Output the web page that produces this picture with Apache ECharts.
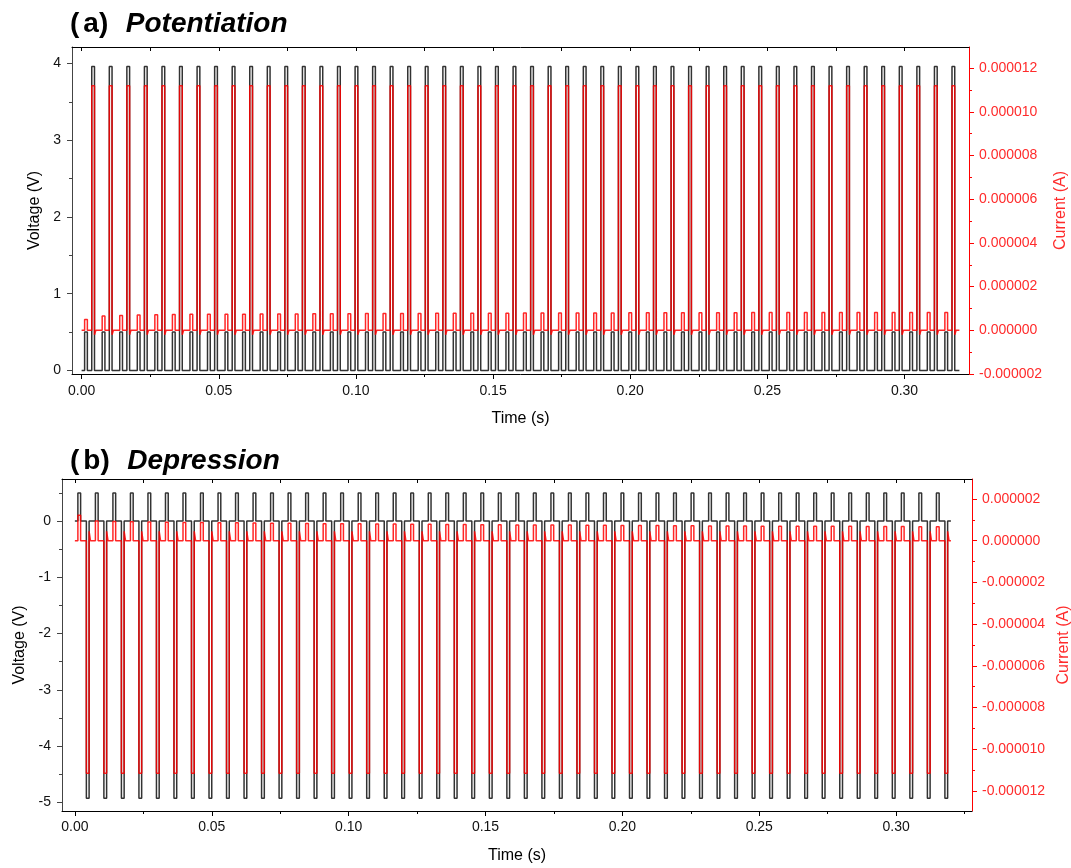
<!DOCTYPE html>
<html><head><meta charset="utf-8">
<script src="https://cdn.jsdelivr.net/npm/echarts@6/dist/echarts.min.js"></script>
<style>html,body{margin:0;padding:0;background:#fff}#c{width:1071px;height:868px}</style>
</head><body><div id="c"></div>
<script>
// ---------- data ----------
const cycleStarts = [0.0000,0.0064,0.0128,0.0192,0.0256,0.0320,0.0384,0.0448,0.0512,0.0576,
  0.0640,0.0704,0.0768,0.0832,0.0896,0.0960,0.1024,0.1088,0.1152,0.1216,
  0.1280,0.1344,0.1408,0.1472,0.1536,0.1600,0.1664,0.1728,0.1792,0.1856,
  0.1920,0.1984,0.2048,0.2112,0.2176,0.2240,0.2304,0.2368,0.2432,0.2496,
  0.2560,0.2624,0.2688,0.2752,0.2816,0.2880,0.2944,0.3008,0.3072,0.3136];
const endTime = 0.32;

// pulse windows inside each cycle (s)
const readWindowA = [0.0011, 0.0021];
const writeWindowA = [0.0037, 0.0047];
const readWindowB = [0.0011, 0.0021];
const writeWindowB = [0.0042, 0.0052];

// voltages (V)
const readVoltA = 0.5, writeVoltA = 3.96;
const readVoltB = 0.5, writeVoltB = -4.93;

// currents (µA)
const readCurrentA = [0.50,0.65,0.68,0.70,0.71,0.72,0.73,0.73,0.74,0.74,
  0.75,0.75,0.75,0.76,0.76,0.76,0.77,0.77,0.77,0.77,
  0.78,0.78,0.78,0.78,0.78,0.79,0.79,0.79,0.79,0.79,
  0.79,0.80,0.80,0.80,0.80,0.80,0.80,0.80,0.81,0.81,
  0.81,0.81,0.81,0.81,0.81,0.81,0.82,0.82,0.82,0.82];
const writeCurrentA = 11.2;
const afterWriteCurrentA = -0.2;
const readCurrentB = [1.22,0.95,0.92,0.91,0.90,0.89,0.88,0.87,0.86,0.86,
  0.85,0.84,0.84,0.83,0.82,0.82,0.81,0.80,0.80,0.79,
  0.79,0.78,0.78,0.77,0.77,0.76,0.76,0.75,0.75,0.74,
  0.74,0.73,0.73,0.73,0.72,0.72,0.71,0.71,0.71,0.70,
  0.70,0.70,0.69,0.69,0.69,0.68,0.68,0.68,0.67,0.67];
const writeCurrentB = -11.15;
const afterWriteCurrentB = 0.45;
const afterWriteDuration = 0.0005;

// ticks
const timeTicksMajor = [0, 0.05, 0.10, 0.15, 0.20, 0.25, 0.30];
const timeTicksMinor = [0.025, 0.075, 0.125, 0.175, 0.225, 0.275, 0.325];
const voltTicksA = [0, 1, 2, 3, 4];
const voltMinorA = [0.5, 1.5, 2.5, 3.5];
const voltTicksB = [0, -1, -2, -3, -4, -5];
const voltMinorB = [0.5, -0.5, -1.5, -2.5, -3.5, -4.5];
const currTicksA = [-2e-6, 0, 2e-6, 4e-6, 6e-6, 8e-6, 10e-6, 12e-6];
const currMinorA = [-1e-6, 1e-6, 3e-6, 5e-6, 7e-6, 9e-6, 11e-6];
const currTicksB = [2e-6, 0, -2e-6, -4e-6, -6e-6, -8e-6, -10e-6, -12e-6];
const currMinorB = [1e-6, -1e-6, -3e-6, -5e-6, -7e-6, -9e-6, -11e-6];

// ---------- build ----------
const FONT = '"Liberation Sans", Arial, sans-serif';
const RED = '#ff0000';
const LABEL_RED = '#ff2b2b';

function buildVoltage(starts, rw, ww, vr, vw, end) {
  const pts = [[0, 0]];
  starts.forEach(s => {
    pts.push([s + rw[0], 0], [s + rw[0], vr], [s + rw[1], vr], [s + rw[1], 0]);
    pts.push([s + ww[0], 0], [s + ww[0], vw], [s + ww[1], vw], [s + ww[1], 0]);
  });
  pts.push([end, 0]);
  return pts;
}
function buildCurrent(starts, rw, ww, reads, iw, post, postDur, end) {
  const pts = [[0, 0]];
  starts.forEach((s, k) => {
    const r = reads[k] * 1e-6, w = iw * 1e-6, p = post * 1e-6;
    pts.push([s + rw[0], 0], [s + rw[0], r], [s + rw[1], r], [s + rw[1], 0]);
    pts.push([s + ww[0], 0], [s + ww[0], w], [s + ww[1], w], [s + ww[1], p],
             [s + ww[1] + postDur, p], [s + ww[1] + postDur, 0]);
  });
  pts.push([end, 0]);
  return pts;
}

const panels = [
  { grid: { left: 72, top: 47, width: 897, height: 327 },
    x: [-0.0035, 0.3235], yl: [-0.046, 4.215], yr: [-2e-6, 12.97e-6],
    vT: voltTicksA, vM: voltMinorA, cT: currTicksA, cM: currMinorA,
    vNameGap: 24, cNameGap: 73, tNameGap: 37, xMargin: 10,
    volt: buildVoltage(cycleStarts, readWindowA, writeWindowA, readVoltA, writeVoltA, endTime),
    curr: buildCurrent(cycleStarts, readWindowA, writeWindowA, readCurrentA, writeCurrentA, afterWriteCurrentA, afterWriteDuration, endTime) },
  { grid: { left: 62, top: 479, width: 910, height: 332 },
    x: [-0.0047, 0.3277], yl: [-5.155, 0.747], yr: [-12.96e-6, 2.96e-6],
    vT: voltTicksB, vM: voltMinorB, cT: currTicksB, cM: currMinorB,
    vNameGap: 29, cNameGap: 79, tNameGap: 37, xMargin: 9,
    volt: buildVoltage(cycleStarts, readWindowB, writeWindowB, readVoltB, writeVoltB, endTime),
    curr: buildCurrent(cycleStarts, readWindowB, writeWindowB, readCurrentB, writeCurrentB, afterWriteCurrentB, afterWriteDuration, endTime) }
];

const inRange = (arr, r) => arr.filter(v => v >= r[0] - 1e-12 && v <= r[1] + 1e-12);
const grids = [], xAxes = [], yAxes = [], series = [];
panels.forEach((P, g) => {
  grids.push(Object.assign({ containLabel: false, outerBoundsMode: 'none' }, P.grid));
  const xMain = xAxes.length;
  xAxes.push({ gridIndex: g, type: 'value', position: 'bottom', min: P.x[0], max: P.x[1],
    axisLine: { show: true, onZero: false, lineStyle: { color: '#000', width: 1 } },
    axisTick: { show: true, customValues: timeTicksMajor, length: 5, lineStyle: { color: '#000' } },
    axisLabel: { show: true, customValues: timeTicksMajor, formatter: v => Number(v).toFixed(2),
      fontSize: 14, color: '#111', margin: P.xMargin, fontFamily: FONT },
    splitLine: { show: false },
    name: 'Time (s)', nameLocation: 'middle', nameGap: P.tNameGap,
    nameTextStyle: { fontSize: 16, color: '#000', fontFamily: FONT } });
  xAxes.push({ gridIndex: g, type: 'value', position: 'bottom', min: P.x[0], max: P.x[1],
    axisLine: { show: false, onZero: false },
    axisTick: { show: true, customValues: inRange(timeTicksMinor, P.x), length: 3, lineStyle: { color: '#000' } },
    axisLabel: { show: false }, splitLine: { show: false } });
  xAxes.push({ gridIndex: g, type: 'value', position: 'top', min: P.x[0], max: P.x[1],
    axisLine: { show: true, onZero: false, lineStyle: { color: '#000', width: 1 } },
    axisTick: { show: true, inside: true, customValues: inRange(timeTicksMajor.concat(timeTicksMinor), P.x), length: 4, lineStyle: { color: '#000' } },
    axisLabel: { show: false }, splitLine: { show: false } });

  const yLeft = yAxes.length;
  yAxes.push({ gridIndex: g, type: 'value', position: 'left', min: P.yl[0], max: P.yl[1],
    axisLine: { show: true, onZero: false, lineStyle: { color: '#444', width: 1 } },
    axisTick: { show: true, customValues: P.vT, length: 5, lineStyle: { color: '#444' } },
    axisLabel: { show: true, customValues: P.vT, formatter: v => String(Math.round(v)),
      fontSize: 14, color: '#111', margin: 11, fontFamily: FONT },
    splitLine: { show: false },
    name: 'Voltage (V)', nameLocation: 'middle', nameGap: P.vNameGap, nameRotate: 90,
    nameTextStyle: { fontSize: 16, color: '#000', fontFamily: FONT } });
  yAxes.push({ gridIndex: g, type: 'value', position: 'left', min: P.yl[0], max: P.yl[1],
    axisLine: { show: false, onZero: false },
    axisTick: { show: true, customValues: inRange(P.vM, P.yl), length: 3, lineStyle: { color: '#444' } },
    axisLabel: { show: false }, splitLine: { show: false } });
  const yRight = yAxes.length;
  yAxes.push({ gridIndex: g, type: 'value', position: 'right', min: P.yr[0], max: P.yr[1],
    axisLine: { show: true, onZero: false, lineStyle: { color: RED, width: 1 } },
    axisTick: { show: true, customValues: P.cT, length: 5, lineStyle: { color: RED } },
    axisLabel: { show: true, customValues: P.cT, formatter: v => { const s = Number(v).toFixed(6); return s === '-0.000000' ? '0.000000' : s; },
      fontSize: 14, color: LABEL_RED, margin: 10, fontFamily: FONT },
    splitLine: { show: false },
    name: 'Current (A)', nameLocation: 'middle', nameGap: P.cNameGap, nameRotate: 90,
    nameTextStyle: { fontSize: 16, color: LABEL_RED, fontFamily: FONT } });
  yAxes.push({ gridIndex: g, type: 'value', position: 'right', min: P.yr[0], max: P.yr[1],
    axisLine: { show: false, onZero: false },
    axisTick: { show: true, customValues: inRange(P.cM, P.yr), length: 3, lineStyle: { color: RED } },
    axisLabel: { show: false }, splitLine: { show: false } });

  series.push({ type: 'line', xAxisIndex: xMain, yAxisIndex: yLeft, data: P.volt,
    showSymbol: false, symbol: 'none', clip: true, z: 2,
    lineStyle: { color: '#333', width: 1.5 } });
  series.push({ type: 'line', xAxisIndex: xMain, yAxisIndex: yRight, data: P.curr,
    showSymbol: false, symbol: 'none', clip: true, z: 3,
    lineStyle: { color: RED, width: 1.5, opacity: 0.85 } });
});

const titleRich = {
  n: { fontSize: 28, fontWeight: 'bold', fontFamily: FONT, color: '#000' },
  g: { fontSize: 28, fontWeight: 'bold', fontFamily: FONT, color: '#000', padding: [0, 0, 0, 4] },
  i: { fontSize: 28, fontWeight: 'bold', fontStyle: 'italic', fontFamily: FONT, color: '#000', padding: [0, 0, 0, 2] }
};
const option = {
  animation: false,
  backgroundColor: '#fff',
  title: [
    { text: '{n|(}{g|a)}  {i|Potentiation}', left: 70, top: 10, padding: 0,
      textStyle: { fontSize: 28, fontFamily: FONT, rich: titleRich } },
    { text: '{n|(}{g|b)}  {i|Depression}', left: 70, top: 447, padding: 0,
      textStyle: { fontSize: 28, fontFamily: FONT, rich: titleRich } }
  ],
  grid: grids, xAxis: xAxes, yAxis: yAxes, series: series
};
const chart = echarts.init(document.getElementById('c'), null, { renderer: 'canvas' });
chart.setOption(option);
</script></body></html>
